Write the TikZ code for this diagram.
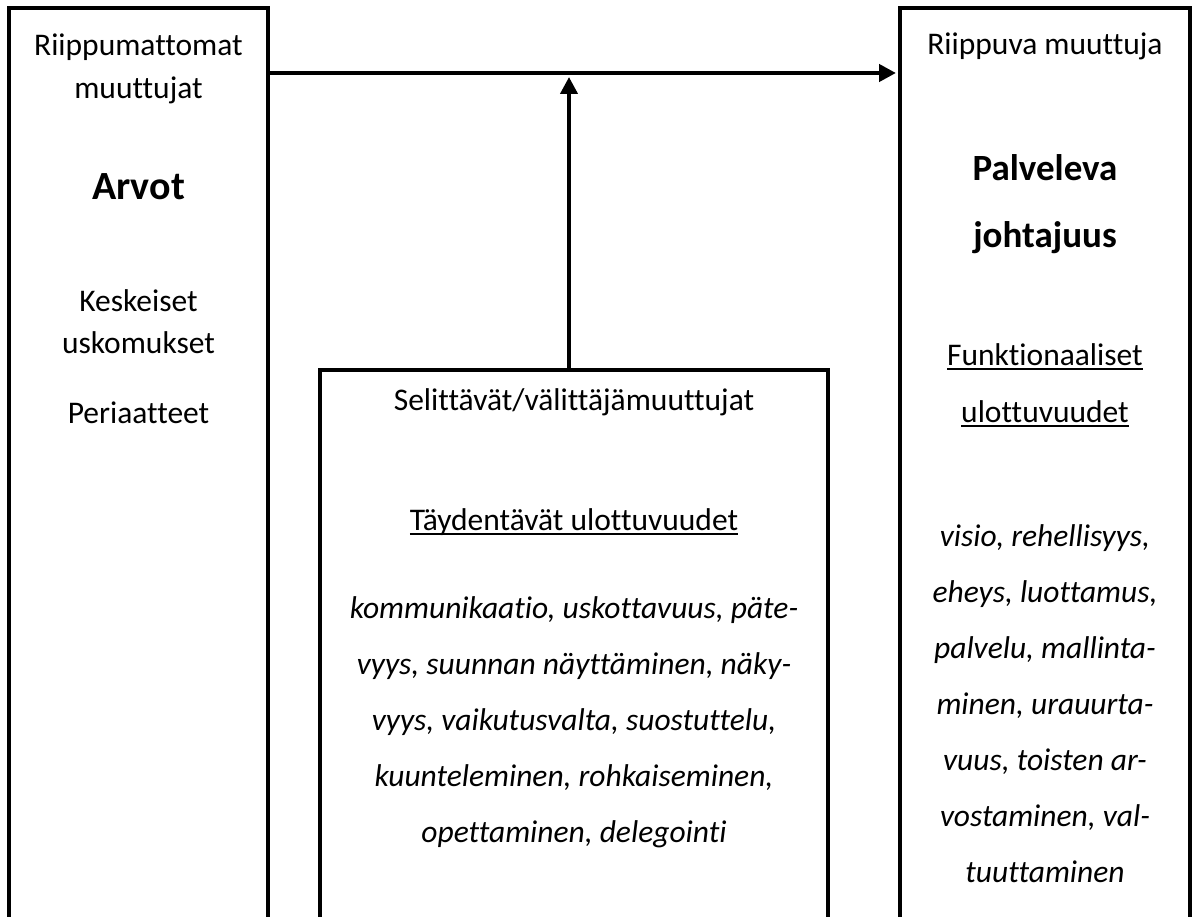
\documentclass[tikz,border=0pt]{standalone}
\usepackage{fontspec}
\setmainfont{Carlito}[Ligatures=NoCommon]
\usetikzlibrary{arrows.meta}

\newcommand\ulword[1]{\setbox0=\hbox{#1}\rlap{\rule[-5pt]{\wd0}{2pt}}\box0}

\begin{document}
\begin{tikzpicture}[x=1pt, y=-1pt,
  col/.style ={draw, rectangle, line width=3.5pt, inner sep=0pt, outer sep=0pt},
  txt/.style ={align=center, inner sep=0pt, anchor=base,
               font=\fontsize{31.5}{43}\selectfont},
  head/.style={align=center, inner sep=0pt, anchor=base,
               font=\fontsize{37}{67}\selectfont\bfseries},
  lst/.style ={align=center, inner sep=0pt, anchor=base,
               font=\fontsize{31.5}{56}\selectfont\itshape},
  arr/.style ={-{Triangle[length=17pt, width=17pt]}, line width=4.5pt},
]
\useasboundingbox (0,0) rectangle (1192,917);

\node[col, minimum width=259pt, minimum height=1000pt] (indep) at (138.5,508) {};
\node[col, minimum width=508pt, minimum height=600pt]  (medi)  at (574,670)   {};
\node[col, minimum width=290pt, minimum height=1000pt] (dep)   at (1045,508)  {};

\node[txt]  (indeplbl) at (138.5,99) {Riippumattomat\\muuttujat};
\node[head, font=\fontsize{40}{67}\selectfont\bfseries] (arvot) at (138.5,200) {Arvot};
\node[txt]  (usko)     at (138.5,354) {Keskeiset\\uskomukset};
\node[txt]  (peri)     at (138.5,423) {Periaatteet};

\node[txt] (medilbl) at (574,410) {Selittävät/välittäjämuuttujat};
\node[txt] (taydent) at (574,530) {\ulword{Täydentävät ulottuvuudet}};
\node[lst] (medilst) at (574,842) {kommunikaatio, uskottavuus, päte-\\
  vyys, suunnan näyttäminen, näky-\\vyys, vaikutusvalta, suostuttelu,\\
  kuunteleminen, rohkaiseminen,\\opettaminen, delegointi};

\node[txt]  (deplbl)  at (1045,55)  {Riippuva muuttuja};
\node[head] (palv)    at (1045,248) {Palveleva\\johtajuus};
\node[txt, font=\fontsize{31.5}{57}\selectfont] (funkt) at (1045,422)
  {\ulword{Funktionaaliset}\\\ulword{ulottuvuudet}};
\node[lst]  (deplst)  at (1045,882) {visio, rehellisyys,\\eheys, luottamus,\\
  palvelu, mallinta-\\minen, urauurta-\\vuus, toisten ar-\\vostaminen, val-\\tuuttaminen};

\coordinate (h) at (0,73);
\draw[arr] (indep.east |- h) -- ([xshift=-4pt]dep.west |- h);
\draw[arr, line width=4pt] ([xshift=-5pt]medi.north) -- ([xshift=-5pt, yshift=-4pt]medi.north |- h);
\end{tikzpicture}
\end{document}
